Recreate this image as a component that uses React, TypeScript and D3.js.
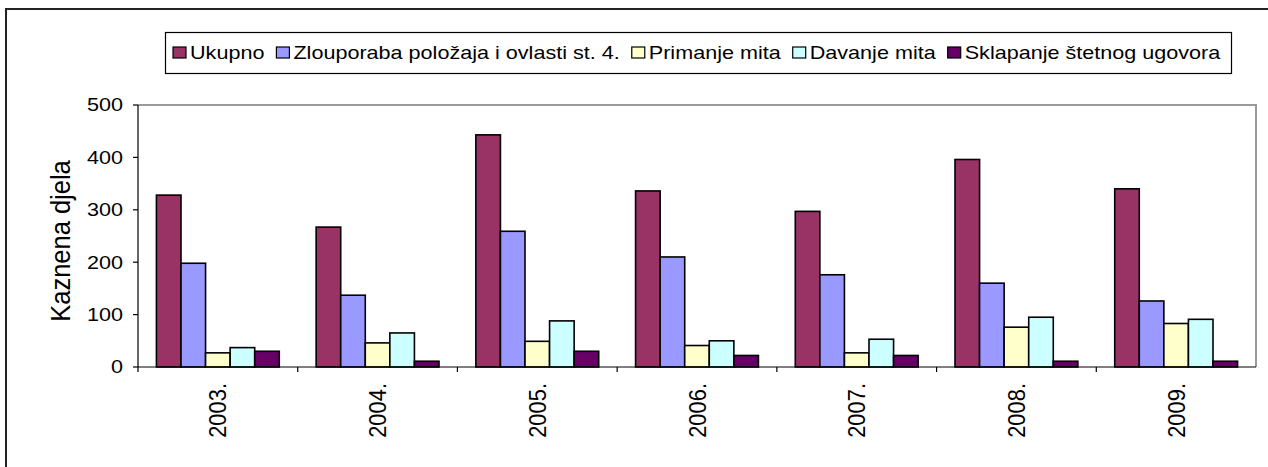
import React, { useRef, useEffect } from 'react';
import * as d3 from 'd3';

const years = ['2003.', '2004.', '2005.', '2006.', '2007.', '2008.', '2009.'];
const seriesNames = [
  'Ukupno',
  'Zlouporaba položaja i ovlasti st. 4.',
  'Primanje mita',
  'Davanje mita',
  'Sklapanje štetnog ugovora',
];
const ukupno = [328, 267, 443, 336, 297, 396, 340];
const zlouporaba = [198, 137, 259, 210, 176, 160, 126];
const primanje = [27, 46, 49, 41, 27, 76, 83];
const davanje = [37, 65, 88, 50, 53, 95, 91];
const sklapanje = [30, 11, 30, 22, 22, 11, 11];
const colors = ['#993366', '#9999FF', '#FFFFCC', '#CCFFFF', '#660066'];
const yTicks = [0, 100, 200, 300, 400, 500];

const FONT = '"Liberation Sans", Arial, sans-serif';
const SX = 1.22; // the original is stretched horizontally

export default function App() {
  const svgRef = useRef<SVGSVGElement>(null);

  useEffect(() => {
    const svg = d3.select(svgRef.current);
    svg.selectAll('*').remove();
    if (!svgRef.current) return;

    const width = 1268;
    const height = 467;
    const plot = { left: 138, right: 1256, top: 105, bottom: 367 };

    svg.append('rect').attr('width', width).attr('height', height).attr('fill', 'white');

    // outer frame
    svg.append('rect')
      .attr('x', 6).attr('y', 9).attr('width', 1300).attr('height', 500)
      .attr('fill', 'none').attr('stroke', '#222').attr('stroke-width', 2);

    const series = [ukupno, zlouporaba, primanje, davanje, sklapanje];

    const x0 = d3.scaleBand().domain(years).range([plot.left, plot.right]).padding(0);
    const x1 = d3.scaleBand().domain(seriesNames).range([0, x0.bandwidth()])
      .paddingInner(0).paddingOuter(0.75);
    const y = d3.scaleLinear().domain([0, 500]).range([plot.bottom, plot.top]);

    // plot border (gray top & right)
    svg.append('path')
      .attr('d', `M${plot.left},${plot.top}H${plot.right}V${plot.bottom}`)
      .attr('fill', 'none').attr('stroke', '#9a9a9a').attr('stroke-width', 2);

    // bars
    years.forEach((yr, i) => {
      const g = svg.append('g').attr('transform', `translate(${x0(yr)},0)`);
      seriesNames.forEach((name, s) => {
        const v = series[s][i];
        g.append('rect')
          .attr('x', x1(name)!)
          .attr('y', y(v))
          .attr('width', x1.bandwidth())
          .attr('height', y(0) - y(v))
          .attr('fill', colors[s])
          .attr('stroke', 'black').attr('stroke-width', 1.6);
      });
    });

    // axes lines
    svg.append('line').attr('x1', plot.left).attr('x2', plot.left)
      .attr('y1', plot.top).attr('y2', plot.bottom)
      .attr('stroke', 'black').attr('stroke-width', 1.2);
    svg.append('line').attr('x1', plot.left).attr('x2', plot.right)
      .attr('y1', plot.bottom).attr('y2', plot.bottom)
      .attr('stroke', 'black').attr('stroke-width', 1.2);

    // y ticks
    yTicks.forEach((t) => {
      svg.append('line').attr('x1', plot.left - 5).attr('x2', plot.left)
        .attr('y1', y(t)).attr('y2', y(t)).attr('stroke', 'black').attr('stroke-width', 1.2);
      svg.append('text')
        .attr('transform', `translate(123,${y(t) + 6.3}) scale(${SX},1)`)
        .attr('text-anchor', 'end')
        .attr('font-family', FONT).attr('font-size', 17.7).attr('fill', 'black')
        .text(t);
    });

    // x category ticks
    years.forEach((yr) => {
      const xx = x0(yr)!;
      svg.append('line').attr('x1', xx).attr('x2', xx)
        .attr('y1', plot.bottom).attr('y2', plot.bottom + 5)
        .attr('stroke', 'black').attr('stroke-width', 1.2);
    });

    // year labels
    years.forEach((yr) => {
      const cx = x0(yr)! + x0.bandwidth() / 2;
      svg.append('text')
        .attr('transform', `translate(${cx + 8.5},383) scale(1.1,1) rotate(-90)`)
        .attr('text-anchor', 'end')
        .attr('font-family', FONT).attr('font-size', 21.9).attr('fill', 'black')
        .text(yr);
    });

    // y axis title
    svg.append('text')
      .attr('transform', `translate(69.5,241) scale(1.06,1) rotate(-90)`)
      .attr('text-anchor', 'middle')
      .attr('font-family', FONT).attr('font-size', 25.5).attr('fill', 'black')
      .text('Kaznena djela');

    // legend
    const leg = svg.append('g');
    leg.append('rect')
      .attr('x', 165.5).attr('y', 32.5).attr('width', 1066).attr('height', 41)
      .attr('fill', 'white').attr('stroke', 'black').attr('stroke-width', 1.2);

    let cursor = 173;
    seriesNames.forEach((name, s) => {
      leg.append('rect')
        .attr('x', cursor).attr('y', 47).attr('width', 13).attr('height', 11)
        .attr('fill', colors[s]).attr('stroke', 'black').attr('stroke-width', 1.2);
      const tx = cursor + 17;
      const txt = leg.append('text')
        .attr('transform', `translate(${tx},58.5) scale(${SX},1)`)
        .attr('font-family', FONT).attr('font-size', 17.7).attr('fill', 'black')
        .text(name);
      const len = (txt.node() as SVGTextElement).getComputedTextLength() * SX;
      cursor = tx + len + 12;
    });
  }, []);

  return (
    <svg
      ref={svgRef}
      width={1268}
      height={467}
      style={{ position: 'absolute', left: 0, top: 0 }}
    />
  );
}
